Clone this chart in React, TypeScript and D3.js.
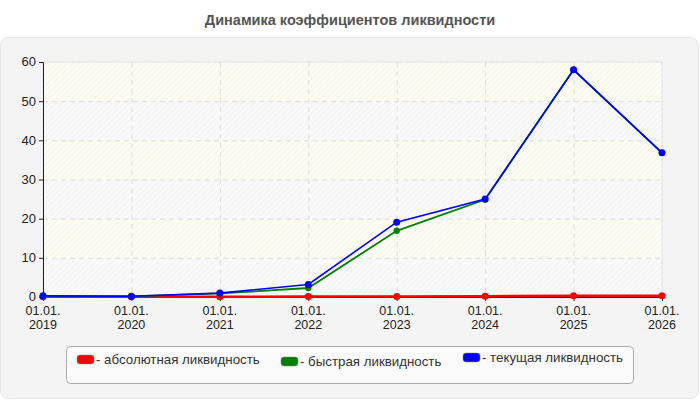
import { useEffect, useRef } from "react";
import * as d3 from "d3";

const years = ["2019", "2020", "2021", "2022", "2023", "2024", "2025", "2026"];
const absolute = [0.05, 0.05, 0.05, 0.1, 0.15, 0.2, 0.35, 0.35];
const quick = [0.2, 0.15, 0.9, 2.3, 16.9, 24.9, 58.0, 36.8];
const current = [0.3, 0.2, 1.0, 3.2, 19.1, 25.0, 58.0, 36.8];
const yTicks = [0, 10, 20, 30, 40, 50, 60];

const series = [
  { name: "- абсолютная ликвидность", values: absolute, color: "#ff0000", width: 2.5, r: 3.5 },
  { name: "- быстрая ликвидность", values: quick, color: "#008000", width: 1.8, r: 3.2 },
  { name: "- текущая ликвидность", values: current, color: "#0000ff", width: 1.6, r: 3.5 },
];

const App = () => {
  const ref = useRef<SVGSVGElement>(null);

  useEffect(() => {
    document.body.style.margin = "0";
    const width = 700, height = 400;
    const left = 43, right = 662, top = 62, bottom = 297;
    const font = "Liberation Sans, Arial, sans-serif";

    const svg = d3.select(ref.current).html("")
      .attr("width", width).attr("height", height)
      .style("display", "block").style("font-family", font);

    const defs = svg.append("defs");
    const hatch = (id: string, bg: string) => {
      const p = defs.append("pattern").attr("id", id)
        .attr("patternUnits", "userSpaceOnUse").attr("width", 4).attr("height", 4)
        .attr("patternTransform", "rotate(45)");
      p.append("rect").attr("width", 4).attr("height", 4).attr("fill", bg);
      p.append("line").attr("x1", 0).attr("y1", 0).attr("x2", 0).attr("y2", 4)
        .attr("stroke", "#ececec").attr("stroke-width", 1);
    };
    hatch("hY", "#fcfcf3");
    hatch("hG", "#f9f9f9");

    svg.append("text").attr("x", 350).attr("y", 25).attr("text-anchor", "middle")
      .attr("font-size", 14.5).attr("font-weight", "bold").attr("fill", "#555")
      .text("Динамика коэффициентов ликвидности");

    svg.append("rect").attr("x", 0.5).attr("y", 37.5).attr("width", 698).attr("height", 361)
      .attr("rx", 8).attr("fill", "#f4f4f4").attr("stroke", "#e4e4e4");

    const x = d3.scalePoint().domain(years).range([left, right]);
    const y = d3.scaleLinear().domain([0, 60]).range([bottom, top]);

    // background bands
    svg.append("g").selectAll("rect").data(d3.range(0, 60, 10)).join("rect")
      .attr("x", left).attr("width", right - left)
      .attr("y", d => y(d + 10)).attr("height", d => y(d) - y(d + 10))
      .attr("fill", d => ((60 - d) / 10) % 2 === 1 ? "url(#hY)" : "url(#hG)");

    svg.append("rect").attr("x", left).attr("y", top).attr("width", right - left).attr("height", bottom - top)
      .attr("fill", "none").attr("stroke", "#e0e0e0");

    // grid
    const grid = svg.append("g").attr("stroke", "#dcdcdc").attr("stroke-dasharray", "5,4");
    grid.selectAll("line.h").data(yTicks.slice(1, -1)).join("line").attr("class", "h")
      .attr("x1", left).attr("x2", right).attr("y1", d => y(d) + 0.5).attr("y2", d => y(d) + 0.5);
    grid.selectAll("line.v").data(years.slice(1, -1)).join("line").attr("class", "v")
      .attr("y1", top).attr("y2", bottom).attr("x1", d => x(d)! + 0.5).attr("x2", d => x(d)! + 0.5);

    // axes
    const yAxis = svg.append("g").attr("transform", `translate(${left},0)`)
      .call(d3.axisLeft(y).tickValues(yTicks).tickSize(4).tickPadding(3));
    const xAxis = svg.append("g").attr("transform", `translate(0,${bottom})`)
      .call(d3.axisBottom(x).tickSize(4).tickFormat(() => ""));
    [yAxis, xAxis].forEach(a => {
      a.select(".domain").attr("stroke", "#222");
      a.selectAll(".tick line").attr("stroke", "#222");
      a.selectAll("text").attr("font-size", 13).attr("fill", "#222").attr("font-family", font);
    });
    yAxis.selectAll(".tick text").attr("dy", "0.3em");
    xAxis.selectAll(".tick text").remove();
    const xl = svg.append("g").attr("font-size", 12.5).attr("fill", "#222").attr("text-anchor", "middle");
    years.forEach(yr => {
      xl.append("text").attr("x", x(yr)!).attr("y", 315).text("01.01.");
      xl.append("text").attr("x", x(yr)!).attr("y", 329).text(yr);
    });

    // lines
    const line = d3.line<number>().x((_, i) => x(years[i])!).y(d => y(d));
    series.forEach(s => {
      const g = svg.append("g");
      g.append("path").attr("d", line(s.values)).attr("fill", "none")
        .attr("stroke", s.color).attr("stroke-width", s.width);
      g.selectAll("circle").data(s.values).join("circle")
        .attr("cx", (_, i) => x(years[i])!).attr("cy", d => y(d)).attr("r", s.r).attr("fill", s.color);
    });

    // legend
    svg.append("rect").attr("x", 66.5).attr("y", 346.5).attr("width", 567).attr("height", 37)
      .attr("rx", 4).attr("fill", "#fafafa").attr("stroke", "#aaa");
    const legendPos = [{ x: 77, y: 359 }, { x: 281, y: 361 }, { x: 463, y: 357 }];
    series.forEach((s, i) => {
      const p = legendPos[i];
      svg.append("rect").attr("x", p.x).attr("y", p.y - 4).attr("width", 17).attr("height", 9).attr("rx", 3)
        .attr("fill", s.color).attr("stroke", "#888").attr("stroke-width", 0.5);
      svg.append("text").attr("x", p.x + 19).attr("y", p.y + 5).attr("font-size", 13.3).attr("fill", "#333")
        .text(s.name);
    });
  }, []);

  return <svg ref={ref}></svg>;
};

export default App;
